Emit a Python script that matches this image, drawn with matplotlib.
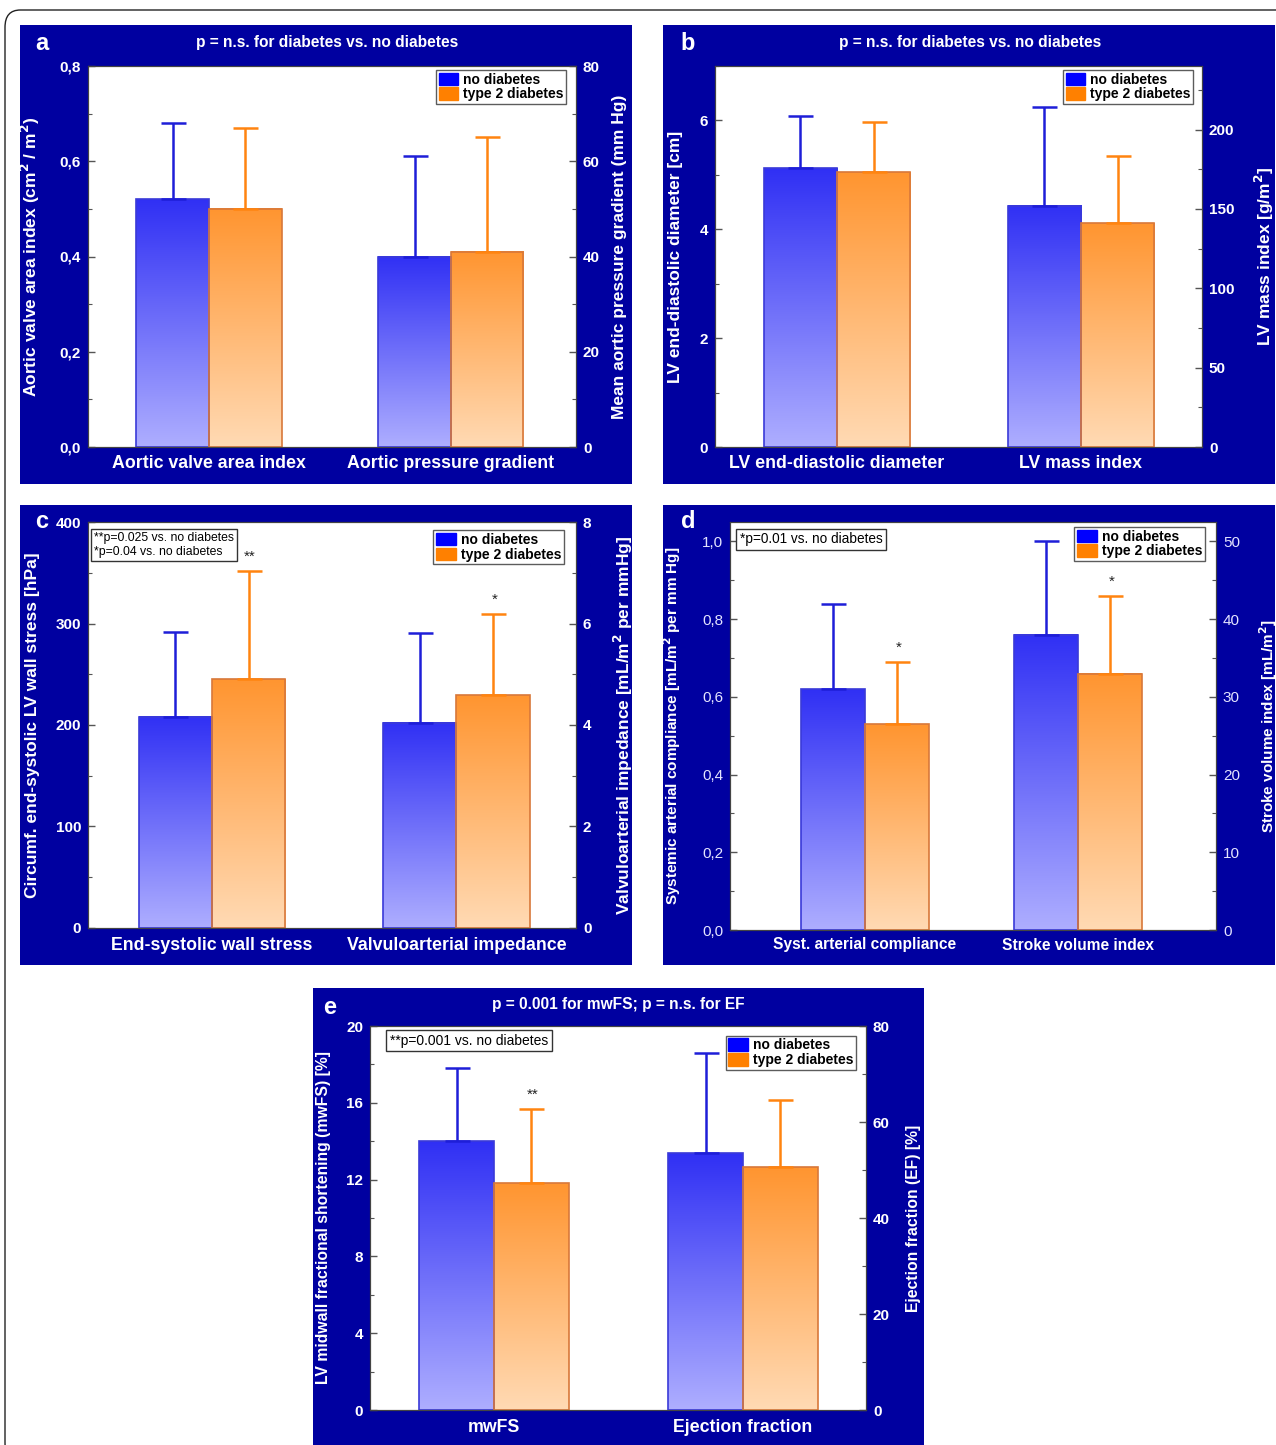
import numpy as np
import matplotlib
matplotlib.use("Agg")
import matplotlib.pyplot as plt
from matplotlib.patches import Rectangle, Patch, FancyBboxPatch
from matplotlib.ticker import FixedLocator, FuncFormatter, AutoMinorLocator
from matplotlib.colors import to_rgb

plt.rcParams['font.family'] = ['Liberation Sans', 'DejaVu Sans']

W, H = 1276, 1445
NAVY = '#0000A0'
BLUE_TOP, BLUE_BOT = '#3030F4', '#AEAEFF'
ORNG_TOP, ORNG_BOT = '#FF9530', '#FFDAB4'
BLUE_EDGE, ORNG_EDGE = '#3A3AD8', '#D8783A'
BLUE_ERR, ORNG_ERR = '#1E1ED8', '#FF8410'

groups = ['no diabetes', 'type 2 diabetes']

# Panel a: aortic valve area index (left axis) / mean aortic pressure gradient (right axis)
a_categories = ['Aortic valve area index', 'Aortic pressure gradient']
a_means = [[0.52, 0.50], [40, 41]]
a_sd = [[0.16, 0.17], [21, 24]]

# Panel b: LV end-diastolic diameter / LV mass index
b_categories = ['LV end-diastolic diameter', 'LV mass index']
b_means = [[5.12, 5.05], [152, 141]]
b_sd = [[0.97, 0.93], [62, 42]]

# Panel c: end-systolic wall stress / valvuloarterial impedance
c_categories = ['End-systolic wall stress', 'Valvuloarterial impedance']
c_means = [[208, 245], [4.04, 4.59]]
c_sd = [[84, 107], [1.77, 1.60]]

# Panel d: systemic arterial compliance / stroke volume index
d_categories = ['Syst. arterial compliance', 'Stroke volume index']
d_means = [[0.62, 0.53], [38, 33]]
d_sd = [[0.22, 0.16], [12, 10]]

# Panel e: midwall fractional shortening / ejection fraction
e_categories = ['mwFS', 'Ejection fraction']
e_means = [[14.0, 11.8], [53.5, 50.6]]
e_sd = [[3.8, 3.9], [20.9, 14.0]]


def fx(px):
    return px / W


def fy(py):
    return 1 - py / H


def comma_fmt(decimals):
    def f(v, pos):
        return f"{v:.{decimals}f}".replace('.', ',')
    return FuncFormatter(f)


def gradient_bar(ax, x, width, height, top, bot, edge):
    n = 256
    c_top, c_bot = np.array(to_rgb(top)), np.array(to_rgb(bot))
    t = np.linspace(0, 1, n)[:, None]
    img = (c_top * (1 - t) + c_bot * t)[:, None, :]
    ax.imshow(img, extent=(x - width / 2, x + width / 2, 0, height),
              aspect='auto', origin='upper', zorder=1, interpolation='bilinear')
    ax.bar([x], [height], width=width, facecolor='none', edgecolor=edge,
           linewidth=1.2, zorder=2)


def panel(bg, box, letter, letter_xy, title, title_xy, categories, means, sds,
          ylims, yticks, fmts, ylabels, label_x, xlim, cat_y, legend_bbox,
          tick_weight='bold', tick_color='white', ylabel_size=12.5, cat_size=12.8,
          note=None, stars=None):
    x0, y0, x1, y1 = bg
    fig.patches.append(Rectangle((fx(x0), fy(y1)), fx(x1 - x0), (y1 - y0) / H,
                                 transform=fig.transFigure, facecolor=NAVY,
                                 edgecolor='none', zorder=-10))
    ax0, ay0, ax1_, ay1 = box
    ax = fig.add_axes([fx(ax0), fy(ay1), fx(ax1_ - ax0), (ay1 - ay0) / H])
    ax.set_facecolor('white')
    axr = ax.twinx()
    axes = [ax, axr]
    width = 0.3
    for gi, a in enumerate(axes):
        for si in range(2):
            xc = gi + (-width / 2 if si == 0 else width / 2)
            top, bot, edge, ecol = ((BLUE_TOP, BLUE_BOT, BLUE_EDGE, BLUE_ERR) if si == 0
                                    else (ORNG_TOP, ORNG_BOT, ORNG_EDGE, ORNG_ERR))
            m, s = means[gi][si], sds[gi][si]
            gradient_bar(a, xc, width, m, top, bot, edge)
            a.errorbar([xc], [m], yerr=[[0], [s]], fmt='none', ecolor=ecol,
                       elinewidth=1.8, capsize=9, capthick=1.8, zorder=3)
        a.set_ylim(*ylims[gi])
        a.yaxis.set_major_locator(FixedLocator(yticks[gi]))
        a.yaxis.set_major_formatter(fmts[gi])
        a.yaxis.set_minor_locator(AutoMinorLocator(2))
        a.tick_params(axis='y', which='both', direction='in', color='#555555',
                      labelcolor=tick_color, labelsize=11, pad=5)
        a.tick_params(axis='y', which='major', length=5, width=1)
        a.tick_params(axis='y', which='minor', length=3, width=0.8)
        for lab in a.get_yticklabels():
            lab.set_fontweight(tick_weight)
        a.set_xlim(*xlim)
    ax.set_xticks([0, 1])
    ax.set_xticklabels([])
    ax.tick_params(axis='x', length=0)
    axr.tick_params(axis='x', length=0)
    for sp in ax.spines.values():
        sp.set_color('#444444')
    for sp in axr.spines.values():
        sp.set_color('#444444')
    ax.set_ylabel(ylabels[0], color='white', fontsize=ylabel_size, fontweight='bold')
    axr.set_ylabel(ylabels[1], color='white', fontsize=ylabel_size, fontweight='bold',
                   rotation=90)
    ax.yaxis.set_label_coords(label_x[0], 0.5)
    axr.yaxis.set_label_coords(label_x[1], 0.5)
    # category labels below the axis
    for gi, cat in enumerate(categories):
        xdisp = ax.transData.transform((gi, 0))[0]
        xf = fig.transFigure.inverted().transform((xdisp, 0))[0]
        fig.text(xf, fy(cat_y), cat, color='white', fontsize=cat_size,
                 fontweight='bold', ha='center', va='center')
    fig.text(fx(letter_xy[0]), fy(letter_xy[1]), letter, color='white',
             fontsize=17, fontweight='bold', ha='center', va='center')
    if title:
        fig.text(fx(title_xy[0]), fy(title_xy[1]), title, color='white',
                 fontsize=11.2, fontweight='bold', ha='center', va='center')
    handles = [Patch(facecolor='#0000FF', edgecolor='#0000FF'),
               Patch(facecolor='#FF8000', edgecolor='#FF8000')]
    leg = axr.legend(handles, groups, loc='upper right', bbox_to_anchor=legend_bbox,
                     fontsize=10, frameon=True, fancybox=False, edgecolor='#333333',
                     handlelength=1.4, handleheight=1.0, handletextpad=0.35,
                     borderpad=0.2, labelspacing=0.05, borderaxespad=0.0)
    leg.get_frame().set_linewidth(1.0)
    for t in leg.get_texts():
        t.set_fontweight('bold')
    if note:
        ntext, nxy, nsize = note
        ax.text(nxy[0], nxy[1], ntext, transform=ax.transAxes, fontsize=nsize,
                ha='left', va='top', linespacing=1.15, zorder=5,
                bbox=dict(boxstyle='square,pad=0.25', facecolor='white',
                          edgecolor='#333333', linewidth=1.0))
    if stars:
        for gi, si, txt in stars:
            a = axes[gi]
            xc = gi + (-width / 2 if si == 0 else width / 2)
            ytop = means[gi][si] + sds[gi][si]
            a.annotate(txt, (xc, ytop), xytext=(1, 5), textcoords='offset points',
                       ha='center', va='bottom', fontsize=11, color='#222222',
                       zorder=6)
    return ax, axr


fig = plt.figure(figsize=(W / 100, H / 100), dpi=100)
fig.patch.set_facecolor('white')
fig.patches.append(FancyBboxPatch((fx(5), fy(1460)), fx(1290), 1450 / H,
                                  boxstyle='round,pad=0,rounding_size=0.012',
                                  transform=fig.transFigure, facecolor='none',
                                  edgecolor='#222222', linewidth=1.0, zorder=-20))

panel((20, 25, 632, 484), (88, 66, 576, 447), 'a', (42, 43),
      'p = n.s. for diabetes vs. no diabetes', (327, 42),
      a_categories, a_means, a_sd,
      [(0, 0.8), (0, 80)], [[0, 0.2, 0.4, 0.6, 0.8], [0, 20, 40, 60, 80]],
      [comma_fmt(1), comma_fmt(0)],
      ['Aortic valve area index (cm$^\\mathbf{2}$ / m$^\\mathbf{2}$)',
       'Mean aortic pressure gradient (mm Hg)'],
      (-0.094, 1.074), (-0.5, 1.517), 464, (0.98, 0.99))

panel((663, 25, 1275, 484), (715, 66, 1202, 447), 'b', (688, 43),
      'p = n.s. for diabetes vs. no diabetes', (970, 42),
      b_categories, b_means, b_sd,
      [(0, 7), (0, 240)], [[0, 2, 4, 6], [0, 50, 100, 150, 200]],
      [comma_fmt(0), comma_fmt(0)],
      ['LV end-diastolic diameter [cm]', 'LV mass index [g/m$^\\mathbf{2}$]'],
      (-0.066, 1.105), (-0.5, 1.496), 464, (0.982, 0.99))

panel((20, 505, 632, 965), (88, 522, 576, 928), 'c', (42, 522),
      None, None,
      c_categories, c_means, c_sd,
      [(0, 400), (0, 8)], [[0, 100, 200, 300, 400], [0, 2, 4, 6, 8]],
      [comma_fmt(0), comma_fmt(0)],
      ['Circumf. end-systolic LV wall stress [hPa]',
       'Valvuloarterial impedance [mL/m$^\\mathbf{2}$ per mmHg]'],
      (-0.098, 1.074), (-0.508, 1.49), 945, (0.975, 0.98),
      note=('**p=0.025 vs. no diabetes\n*p=0.04 vs. no diabetes', (0.012, 0.975), 8.8),
      stars=[(0, 1, '**'), (1, 1, '*')])

panel((663, 505, 1275, 965), (730, 522, 1216, 930), 'd', (688, 522),
      None, None,
      d_categories, d_means, d_sd,
      [(0, 1.05), (0, 52.5)], [[0, 0.2, 0.4, 0.6, 0.8, 1.0], [0, 10, 20, 30, 40, 50]],
      [comma_fmt(1), comma_fmt(0)],
      ['Systemic arterial compliance [mL/m$^\\mathbf{2}$ per mm Hg]',
       'Stroke volume index [mL/m$^\\mathbf{2}$]'],
      (-0.097, 1.084), (-0.634, 1.648), 945, (0.977, 0.988),
      tick_weight='normal', tick_color='#E4E4FF', ylabel_size=11, cat_size=11.2,
      note=('*p=0.01 vs. no diabetes', (0.02, 0.975), 9.8),
      stars=[(0, 1, '*'), (1, 1, '*')])

panel((313, 988, 924, 1445), (370, 1026, 866, 1410), 'e', (330, 1008),
      'p = 0.001 for mwFS; p = n.s. for EF', (618, 1005),
      e_categories, e_means, e_sd,
      [(0, 20), (0, 80)], [[0, 4, 8, 12, 16, 20], [0, 20, 40, 60, 80]],
      [comma_fmt(0), comma_fmt(0)],
      ['LV midwall fractional shortening (mwFS) [%]', 'Ejection fraction (EF) [%]'],
      (-0.079, 1.081), (-0.498, 1.494), 1427, (0.98, 0.975),
      ylabel_size=11.3,
      note=('**p=0.001 vs. no diabetes', (0.04, 0.98), 10),
      stars=[(0, 1, '**')])

fig.savefig('out.png', dpi=100, facecolor='white')
